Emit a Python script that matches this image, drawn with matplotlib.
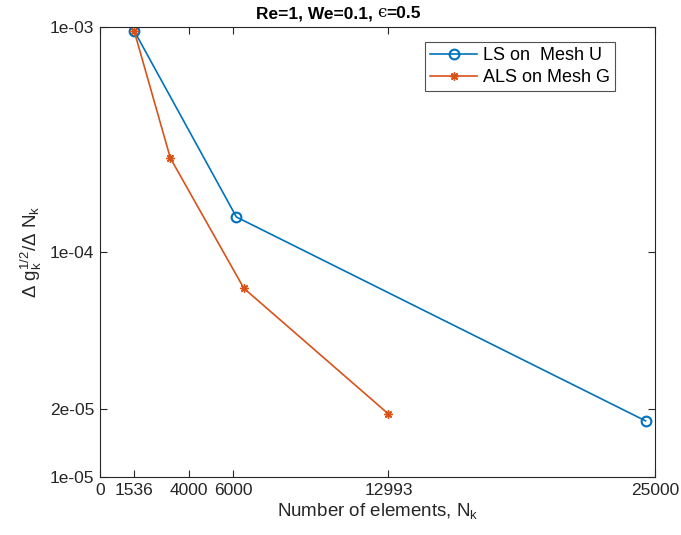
import numpy as np
import matplotlib.pyplot as plt

# data
ls_x = [1536, 6144, 24576]
ls_y = [9.6e-4, 1.43e-4, 1.78e-5]
als_x = [1536, 3170, 6480, 12993]
als_y = [9.6e-4, 2.61e-4, 6.9e-5, 1.91e-5]

xticks = [0, 1536, 4000, 6000, 12993, 25000]
yticks = [1e-5, 2e-5, 1e-4, 1e-3]
ytick_labels = ['1e-05', '2e-05', '1e-04', '1e-03']

plt.rcParams['font.family'] = ['Liberation Sans', 'DejaVu Sans']
plt.rcParams['mathtext.fontset'] = 'custom'
plt.rcParams['mathtext.rm'] = 'Liberation Sans'
plt.rcParams['mathtext.it'] = 'Liberation Sans:italic'
plt.rcParams['mathtext.bf'] = 'Liberation Sans:bold'

dark = '#262626'
fig = plt.figure(figsize=(6.81, 5.35), dpi=100)
ax = fig.add_axes([100 / 681, 1 - 477.3 / 535, 555 / 681, 450.6 / 535])

ax.plot(ls_x, ls_y, color='#0072BD', lw=1.2, marker='o', ms=7,
        mfc='none', mew=1.5, label='LS on  Mesh U')
ax.plot(als_x, als_y, color='#D95319', lw=1.2, marker=(8, 2, 0), ms=6,
        mew=1.0, label='ALS on Mesh G')

ax.set_yscale('log')
ax.set_xlim(0, 25000)
ax.set_ylim(1e-5, 1e-3)
ax.set_xticks(xticks)
ax.set_xticklabels([str(t) for t in xticks])
ax.set_yticks(yticks)
ax.set_yticklabels(ytick_labels)
ax.yaxis.set_minor_locator(plt.NullLocator())

ax.tick_params(direction='in', top=True, right=True, length=5, width=0.8,
               colors=dark, labelsize=12.5, pad=4)
for s in ax.spines.values():
    s.set_color(dark)
    s.set_linewidth(0.8)

# title: bold text with a plain lunate epsilon
ax.text(0.5, 1.012, 'Re=1, We=0.1, ', transform=ax.transAxes, ha='right',
        va='bottom', fontsize=12.5, fontweight='bold', color='black')
ax.text(0.5, 1.012, '\u03f5', transform=ax.transAxes, ha='left', va='bottom',
        fontsize=12, family=['DejaVu Serif'], color='black')
ax.text(0.5 + 9 / 555, 1.012, '=0.5', transform=ax.transAxes, ha='left',
        va='bottom', fontsize=12.5, fontweight='bold', color='black')

ax.set_xlabel(r'Number of elements, N$_\mathregular{k}$', fontsize=13.5,
              color=dark, labelpad=2)
ax.set_ylabel(r'$\Delta$ g$_\mathregular{k}^\mathregular{1/2}$/$\Delta$ N$_\mathregular{k}$',
              fontsize=13.5, color=dark, labelpad=4)

leg = ax.legend(loc='upper right', bbox_to_anchor=(0.928, 0.966), fontsize=13,
                frameon=True, fancybox=False, edgecolor=dark,
                borderaxespad=0, handlelength=2.6, borderpad=0.3,
                labelspacing=0.25, handletextpad=0.3)
leg.get_frame().set_linewidth(0.8)

fig.savefig('out.png', dpi=100)
